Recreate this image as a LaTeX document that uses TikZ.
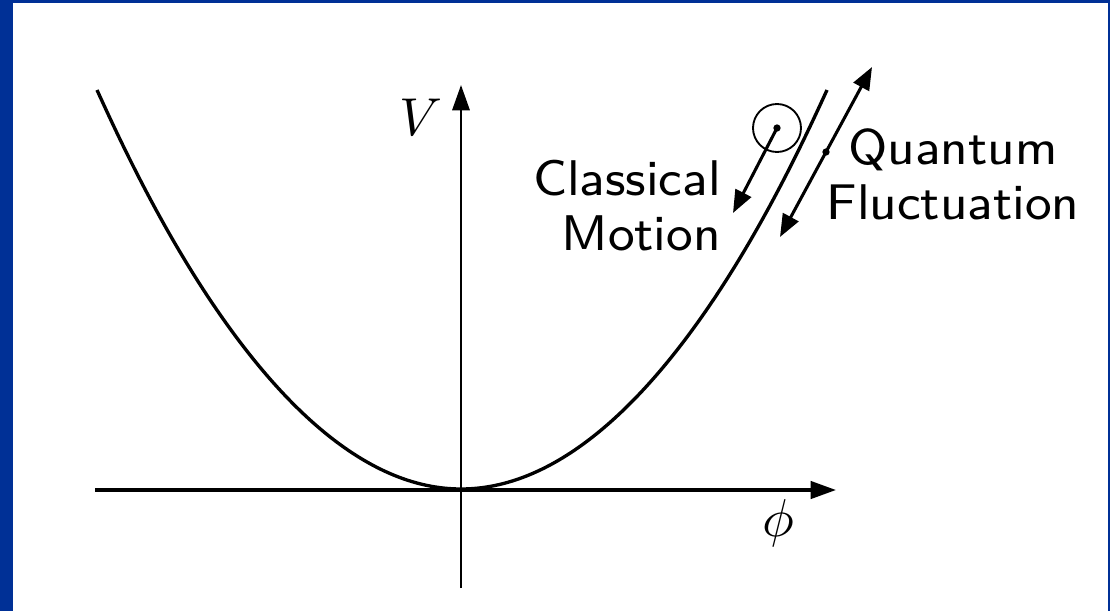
\documentclass[tikz,border=0pt]{standalone}
\usepackage{graphicx}
\usetikzlibrary{arrows.meta,calc}
\definecolor{frameblue}{RGB}{0,48,150}
\newcommand{\bigsf}[2]{\scalebox{4.7}{\sffamily\fontsize{8}{8.8}\selectfont\begin{tabular}{@{}#1@{}}#2\end{tabular}}}
\begin{document}
\begin{tikzpicture}[x=0.75pt,y=-0.75pt,
  lbl/.style={inner sep=0pt},
  mlbl/.style={inner sep=0pt},
  axistip/.style={-{Triangle[length=19pt,width=13pt]}},
  motiontip/.style={-{Triangle[length=17pt,width=13pt]}},
  bothtips/.style={{Triangle[length=17pt,width=13pt]}-{Triangle[length=17pt,width=13pt]}},
  dotnode/.style={circle, fill=black, inner sep=0pt, minimum size=5.5pt}]
% frame
\fill[frameblue] (0,0) rectangle (1110,611);
\fill[white] (13,3) rectangle (1108,611);
\useasboundingbox (0,0) rectangle (1110,611);
% axes
\coordinate (xs) at (95,490);
\coordinate (xe) at (836,490);
\coordinate (ys) at (461,588);
\coordinate (ye) at (461,85);
\draw[line width=2.5pt, axistip] (xs) -- (xe);
\draw[line width=1.7pt, axistip] (ys) -- (ye);
\node[mlbl] (V) at (421,117) {\scalebox{4}{$V$}};
\node[mlbl] (phi) at (778,523) {\scalebox{4}{$\phi$}};
% potential
\coordinate (pl) at (97,90);
\coordinate (pv) at (461,489);
\coordinate (pr) at (827,90);
\draw[line width=2.5pt] (pl) parabola bend (pv) (pr);
% classical motion
\node[draw, circle, line width=1.4pt, minimum size=48pt*0.75, inner sep=0pt] (ball) at (777,128) {};
\node[dotnode] (bc) at (777,128) {};
\coordinate (cm) at (733,213);
\draw[line width=2.3pt, motiontip] (bc.center) -- (cm);
\node[lbl, anchor=east] (cl) at (721,212) {\bigsf{r}{Classical\hspace{0.5pt}\\Motion\hspace{-0.5pt}}};
% quantum fluctuation
\coordinate (qa) at (780,237);
\coordinate (qb) at (872,67);
\draw[line width=2.3pt, bothtips] (qa) -- (qb);
\node[dotnode] (qd) at ($ (qa)!0.5!(qb) $) {};
\node[lbl] (ql) at (953,181) {\bigsf{c}{Quantum\\Fluctuation}};
\end{tikzpicture}
\end{document}
